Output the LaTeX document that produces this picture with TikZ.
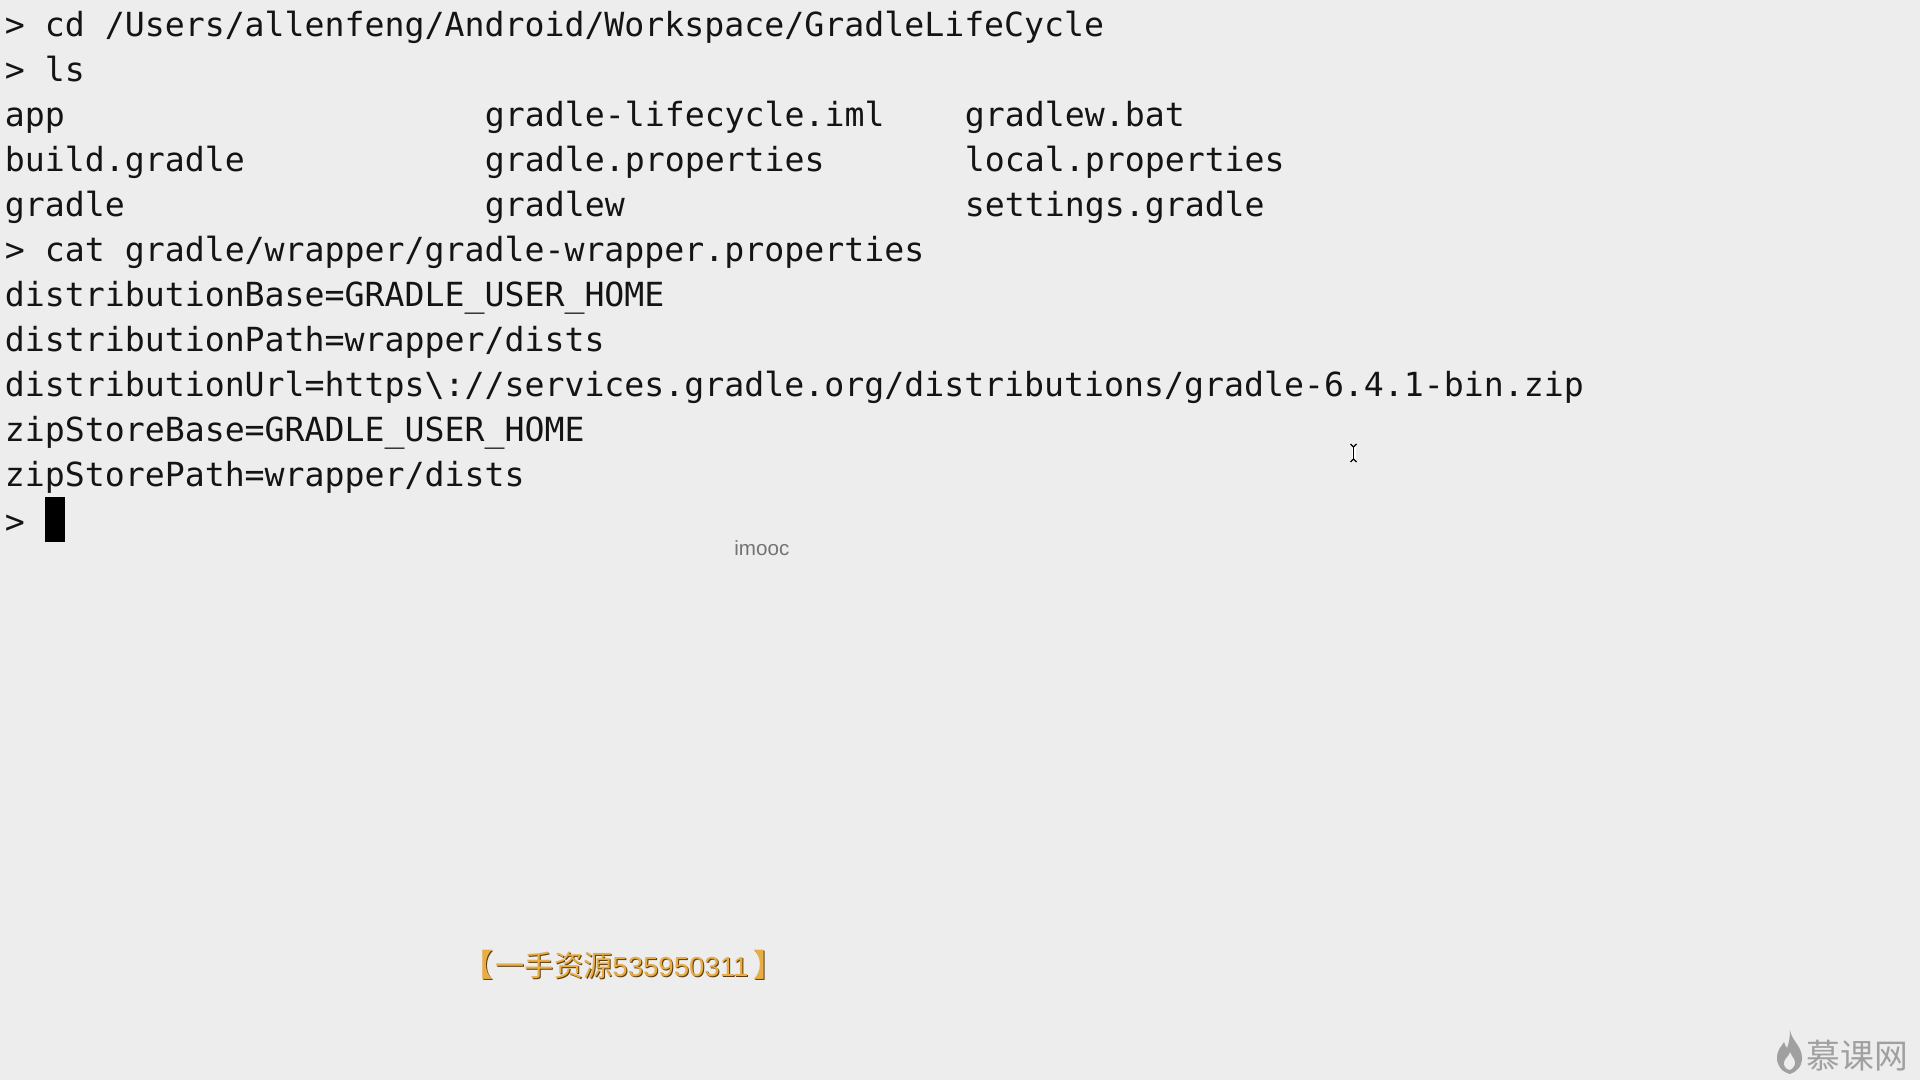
\documentclass[tikz,border=0pt]{standalone}
\usepackage{fontspec}
\usepackage{tikz}
\usetikzlibrary{calc}
\setmainfont{Liberation Sans}
\newfontfamily\termfont{DejaVu Sans Mono}
\newfontfamily\cjkfont{Noto Sans CJK SC}
\definecolor{screenbg}{HTML}{EDEDED}
\definecolor{markgray}{HTML}{A0A0A0}
\definecolor{stampgold}{HTML}{E8AE45}
\definecolor{stampdark}{HTML}{5A3A10}
\tikzset{
	term/.style={anchor=base west, inner sep=0pt, text=black!92, font=\termfont\fontsize{16.6}{20}\selectfont},
	stamp/.style={anchor=base west, inner sep=0pt, font=\cjkfont\fontsize{14.6}{16}\selectfont},
}
\newcommand{\stamptext}{{\bfseries\fontsize{15.4}{16}\selectfont 【}\hspace{1.2pt}一手资源{\fontspec{Liberation Sans}\fontsize{13.8}{16}\selectfont 535950311}\hspace{2.6pt}{\bfseries\fontsize{15.4}{16}\selectfont 】}}

\begin{document}
\begin{tikzpicture}[x=0.5pt, y=-0.5pt]
	\fill[screenbg] (0,0) rectangle (1920,1080);
%
	\node[term] (cmdcd) at (4.5,37) {> cd /Users/allenfeng/Android/Workspace/GradleLifeCycle};
	\node[term] (cmdls) at (4.5,82) {> ls};
	\node[term] (app) at (4.5,127) {app};
	\node[term] (iml) at (484.5,127) {gradle-lifecycle.iml};
	\node[term] (bat) at (964.5,127) {gradlew.bat};
	\node[term] (build) at (4.5,172) {build.gradle};
	\node[term] (props) at (484.5,172) {gradle.properties};
	\node[term] (local) at (964.5,172) {local.properties};
	\node[term] (gradle) at (4.5,217) {gradle};
	\node[term] (gradlew) at (484.5,217) {gradlew};
	\node[term] (settings) at (964.5,217) {settings.gradle};
	\node[term] (cmdcat) at (4.5,262) {> cat gradle/wrapper/gradle-wrapper.properties};
	\node[term] (distbase) at (4.5,306.5) {distributionBase=GRADLE\_USER\_HOME};
	\node[term] (distpath) at (4.5,351) {distributionPath=wrapper/dists};
	\node[term] (disturl) at (4.5,396) {distributionUrl=https\textbackslash://services.gradle.org/distributions/gradle-6.4.1-bin.zip};
	\node[term] (zipbase) at (4.5,441) {zipStoreBase=GRADLE\_USER\_HOME};
	\node[term] (zippath) at (4.5,486) {zipStorePath=wrapper/dists};
	\node[term] (prompt) at (4.5,533) {>};
%
	% block cursor
	\fill[black] (45,497) rectangle (65,542);
%
	% mouse pointer
	\draw[white, line width=2pt] (1353.5,445) -- (1353.5,461);
	\draw[black, line width=0.6pt] (1350.5,444) -- (1353.5,447) -- (1356.5,444);
	\draw[black, line width=0.6pt] (1350.5,462) -- (1353.5,459) -- (1356.5,462);
	\draw[black, line width=0.9pt] (1353.5,447) -- (1353.5,459);
%
	\node[anchor=base west, inner sep=0pt, text=black!55, font=\fontsize{10.3}{12}\selectfont] (imooc) at (734,555) {imooc};
%
	% gold stamp
	\node[stamp, text=stampdark] (stampshadow) at (463,977) {\stamptext};
	\node[stamp, text=stampgold] (stamp) at (462,976) {\stamptext};
%
	% logo
	\fill[markgray, even odd rule] (1790,1030) .. controls (1791,1040) and (1802,1046) .. (1802,1058)
		.. controls (1802,1067) and (1796,1072) .. (1790,1074)
		.. controls (1782,1072) and (1777,1066) .. (1777,1058)
		.. controls (1777,1050) and (1781,1047) .. (1784,1042)
		.. controls (1785,1045) and (1786,1047) .. (1787,1048)
		.. controls (1789,1043) and (1790,1037) .. (1790,1030) -- cycle
		(1790,1052) .. controls (1792,1057) and (1796,1060) .. (1795,1064)
		.. controls (1794,1068) and (1791,1070) .. (1789,1070)
		.. controls (1786,1069) and (1783,1066) .. (1784,1062)
		.. controls (1785,1058) and (1789,1056) .. (1790,1052) -- cycle;
	\node[anchor=base west, inner sep=0pt, text=markgray, font=\cjkfont\fontsize{16.9}{20}\selectfont] (logo) at (1806,1068) {慕课网};
\end{tikzpicture}
\end{document}
